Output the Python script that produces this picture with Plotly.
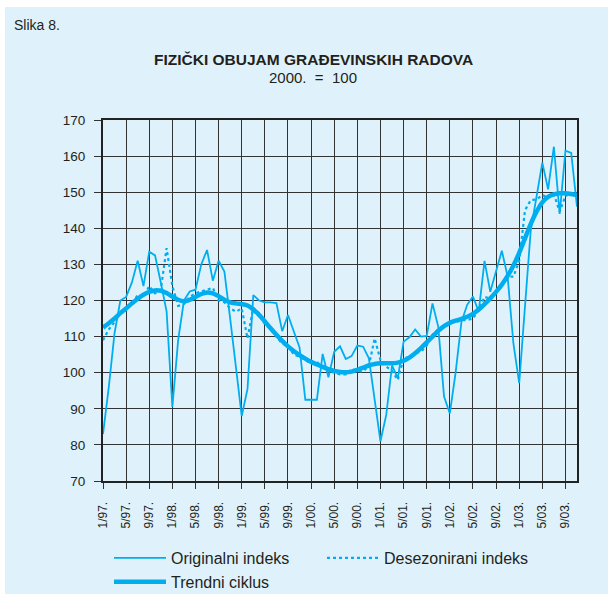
import plotly.graph_objects as go

# ---- data ----
years = ["97", "98", "99", "00", "01", "02", "03"]
months = [f"{m}/{y}." for y in years for m in range(1, 13)][:83]

tick_labels = ["1/97.", "5/97.", "9/97.", "1/98.", "5/98.", "9/98.", "1/99.", "5/99.", "9/99.",
               "1/00.", "5/00.", "9/00.", "1/01.", "5/01.", "9/01.", "1/02.", "5/02.", "9/02.",
               "1/03.", "5/03.", "9/03."]

originalni = [83, 96, 111, 120, 121, 125, 131, 124, 133.5, 132.5, 125, 117,
              90.5, 109, 120, 122.5, 123, 130, 134, 125.5, 131, 128, 115, 101,
              88, 95.5, 121.5, 120, 119.5, 119.5, 119.3, 111.5, 116, 111.5, 107, 92.5,
              92.5, 92.5, 105.2, 98.7, 105.8, 107.3, 103.8, 104.6, 107.5, 107.2, 104, 93,
              81, 88.3, 102, 98.5, 108.6, 109.8, 112, 110, 110.2, 119.2, 112.7, 93.4,
              88.7, 100, 114, 118.8, 121.1, 116.9, 131, 122.4, 128, 133.8, 126.6, 108.1,
              97.1, 118, 139.5, 148.8, 158.2, 150.8, 162.6, 144, 161.5, 160.9, 146]

desezonirani = [109, 112, 114, 116.5, 117.5, 119, 121.5, 121, 124, 122, 123, 134.5,
                124, 118.5, 119, 121, 122, 122.5, 123, 123.5, 120, 119.5, 117.8, 116.9,
                117.8, 109.5, 118, 116.5, 113.5, 112, 110, 108, 107.5, 105, 104.5, 103.5,
                102.5, 103, 101.5, 100.5, 100, 99.5, 99.5, 101, 100.5, 100.3, 102, 109.5,
                103.5, 101.7, 100.5, 98, 104, 104.4, 105.5, 105.8, 107.5, 110.5, 112, 113,
                114, 114, 114.5, 114.6, 115, 117.5, 121, 120.5, 122.5, 124.5, 126.6, 126.6,
                131, 145, 147.8, 148, 149.2, 148.5, 149.5, 144.6, 149, 149.5, 149]

trendni = [112.5, 113.7, 115, 116.5, 117.8, 119.2, 120.5, 121.6, 122.4, 122.8, 122.7, 122.1,
           121.1, 120.2, 119.8, 120.2, 121, 121.8, 122.2, 122, 121.2, 120.2, 119.5, 119.2,
           119, 118.6, 117.5, 116, 114.2, 112.3, 110.5, 108.8, 107.3, 106, 104.9, 103.9,
           103, 102.3, 101.6, 101, 100.5, 100.2, 100.1, 100.3, 100.8, 101.4, 102, 102.4,
           102.6, 102.6, 102.6, 102.8, 103.3, 104.2, 105.4, 106.8, 108.4, 110, 111.6, 112.9,
           113.8, 114.4, 114.9, 115.5, 116.3, 117.5, 119, 120.6, 122.4, 124.4, 126.8, 129.7,
           133.2, 137.2, 141.2, 144.6, 147.2, 148.7, 149.4, 149.7, 149.7, 149.5, 149.2]

CYAN = "#00aeef"
BG = "#dff2fb"
FONT = "Liberation Sans, Arial, sans-serif"

fig = go.Figure()
fig.add_trace(go.Scatter(x=months, y=originalni, mode="lines", name="Originalni indeks",
                         line=dict(color=CYAN, width=1.8)))
fig.add_trace(go.Scatter(x=months, y=desezonirani, mode="lines", name="Desezonirani indeks",
                         line=dict(color=CYAN, width=2.2, dash="dot")))
fig.add_trace(go.Scatter(x=months, y=trendni, mode="lines", name="Trendni ciklus",
                         line=dict(color=CYAN, width=4.5, shape="spline")))

PW, PH, L, T = 474, 361, 103, 120


def px(x):
    return (x - L) / PW


def py(y):
    return (T + PH - y) / PH


fig.update_layout(
    width=610, height=599,
    margin=dict(l=L, r=610 - L - PW, t=T, b=599 - T - PH, autoexpand=False),
    paper_bgcolor="white",
    plot_bgcolor=BG,
    font=dict(family=FONT, size=13, color="#231f20"),
    shapes=[dict(type="rect", xref="paper", yref="paper", layer="below",
                 x0=px(5), x1=px(608), y0=py(594), y1=py(7),
                 fillcolor=BG, line=dict(width=0))],
    annotations=[
        dict(text="Slika 8.", xref="paper", yref="paper", x=px(12), y=py(25),
             xanchor="left", yanchor="middle", showarrow=False, font=dict(size=14)),
        dict(text="<b>FIZIČKI OBUJAM GRAĐEVINSKIH RADOVA</b>", xref="paper", yref="paper",
             x=px(313), y=py(59), xanchor="center", yanchor="middle",
             showarrow=False, font=dict(size=15.5)),
        dict(text="2000.&nbsp;&nbsp;=&nbsp;&nbsp;100", xref="paper", yref="paper",
             x=px(313), y=py(77), xanchor="center", yanchor="middle",
             showarrow=False, font=dict(size=15)),
    ],
    showlegend=True,
    legend=dict(orientation="h", x=px(109), xanchor="left",
                y=py(541), yanchor="top", entrywidth=146, entrywidthmode="pixels",
                itemwidth=52, font=dict(size=16, color="#231f20"), bgcolor="rgba(0,0,0,0)",
                tracegroupgap=0),
)

fig.update_xaxes(type="category", range=[0, 82], tickvals=months[::4], ticktext=tick_labels,
                 tickangle=-90, showgrid=True, gridcolor="#333333", gridwidth=1.4,
                 showline=True, linecolor="#222222", linewidth=2, mirror=True,
                 ticks="outside", ticklen=6, tickcolor="#333333",
                 tickfont=dict(size=12), ticklabelstandoff=8,
                 zeroline=False)
fig.update_yaxes(range=[70, 170], dtick=10, showgrid=True, gridcolor="#333333", gridwidth=1.4,
                 showline=True, linecolor="#222222", linewidth=2, mirror=True,
                 ticks="outside", ticklen=7, tickcolor="#333333",
                 tickfont=dict(size=13.5), ticklabelstandoff=6,
                 zeroline=False)

fig.write_html("out.html", post_script="document.body.style.margin='0';",
               config={"displayModeBar": False})
